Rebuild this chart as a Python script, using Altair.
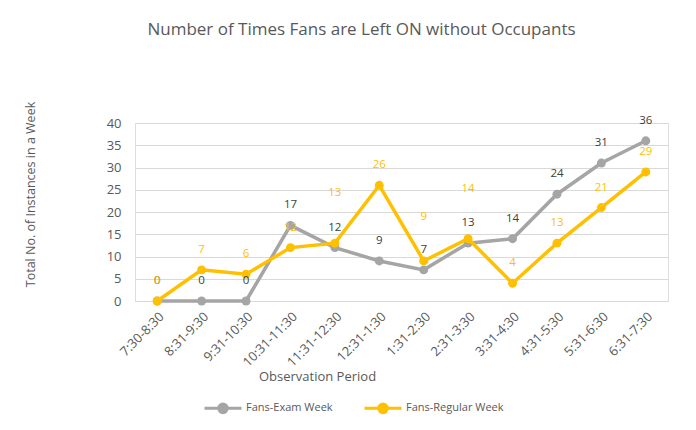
import altair as alt
import pandas as pd

periods = ["7:30-8:30", "8:31-9:30", "9:31-10:30", "10:31-11:30", "11:31-12:30",
           "12:31-1:30", "1:31-2:30", "2:31-3:30", "3:31-4:30", "4:31-5:30",
           "5:31-6:30", "6:31-7:30"]
exam_week = [0, 0, 0, 17, 12, 9, 7, 13, 14, 24, 31, 36]
regular_week = [0, 7, 6, 12, 13, 26, 9, 14, 4, 13, 21, 29]
series_names = ["Fans-Exam Week", "Fans-Regular Week"]
series_colors = ["#A5A5A5", "#FFC000"]
label_colors = ["#404040", "#FFC000"]
y_ticks = [0, 5, 10, 15, 20, 25, 30, 35, 40]
# labels that were dragged upward in the original (in data units)
regular_label_lift = {"11:31-12:30": 6.75, "1:31-2:30": 5.35, "2:31-3:30": 6.75}

rows = []
for name, vals in zip(series_names, [exam_week, regular_week]):
    for p, v in zip(periods, vals):
        lift = regular_label_lift.get(p, 0) if name == series_names[1] else 0
        rows.append({"period": p, "value": v, "series": name, "label_y": v + lift})
df = pd.DataFrame(rows)

FONT = "Open Sans"
GREY_TXT = "#595959"

x_enc = alt.X("period:N", sort=periods,
              scale=alt.Scale(type="point", padding=0.5),
              axis=alt.Axis(title="Observation Period", labelAngle=-45,
                            labelFont=FONT, labelFontSize=13, labelColor=GREY_TXT,
                            labelPadding=9, ticks=False, domainColor="#D9D9D9",
                            domainWidth=1, grid=False,
                            titleFont=FONT, titleFontSize=13, titleFontWeight="normal",
                            titleColor=GREY_TXT, titleX=182, titleY=75,
                            titleBaseline="middle", titleAnchor="middle"))
y_scale = alt.Scale(domain=[0, 40], nice=False)
y_axis = alt.Axis(title="Total No. of Instances  in a Week", values=y_ticks,
                  labelFont=FONT, labelFontSize=13, labelColor=GREY_TXT,
                  labelPadding=14, ticks=False, domain=False,
                  gridColor="#D9D9D9", gridWidth=1,
                  titleFont=FONT, titleFontSize=12.5, titleFontWeight="normal",
                  titleColor=GREY_TXT, titleX=-105, titleY=71,
                  titleAngle=-90, titleBaseline="middle")
y_enc = alt.Y("value:Q", scale=y_scale, axis=y_axis)

legend_path = ("M-1,0L1,0M0.23,0A0.23,0.23,0,1,1,-0.23,0"
               "A0.23,0.23,0,1,1,0.23,0Z")
legend = alt.Legend(title=None, orient="none", direction="horizontal",
                    legendX=68, legendY=265, symbolType=legend_path,
                    symbolSize=1369, symbolStrokeWidth=3,
                    labelFont=FONT, labelFontSize=11, labelColor=GREY_TXT,
                    labelOffset=3, columnPadding=25)
col_scale = alt.Scale(domain=series_names, range=series_colors)

base = alt.Chart(df)
layers = []
for i, name in enumerate(series_names):
    sub = base.transform_filter(alt.datum.series == name)
    layers.append(sub.mark_line(strokeWidth=3.5).encode(
        x=x_enc, y=y_enc,
        stroke=alt.Stroke("series:N", scale=col_scale, legend=legend)))
    layers.append(sub.mark_circle(size=80, opacity=1).encode(
        x=x_enc, y=y_enc,
        fill=alt.Fill("series:N", scale=col_scale, legend=legend)))
for i, name in enumerate(series_names):
    sub = base.transform_filter(alt.datum.series == name)
    layers.append(sub.mark_text(dy=-20, font=FONT, fontSize=11.5,
                                color=label_colors[i]).encode(
        x=x_enc, y=alt.Y("label_y:Q", scale=y_scale, axis=y_axis),
        text="value:Q"))

chart = alt.layer(*layers).properties(
    width=533, height=178,
    autosize=alt.AutoSizeParams(type="none"),
    padding={"left": 127, "top": 115, "right": 20, "bottom": 121},
    title=alt.TitleParams("Number of Times Fans are Left ON without Occupants",
                          font=FONT, fontSize=17, fontWeight="normal",
                          color=GREY_TXT, anchor="middle", frame="group",
                          baseline="alphabetic", offset=48, dx=-40),
).configure_view(stroke=None).configure(background="white")

chart.save("out.html", embed_options={"renderer": "svg", "actions": False})
